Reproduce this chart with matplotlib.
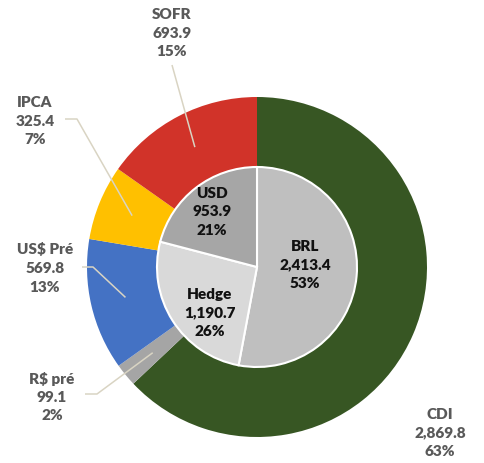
import numpy as np
import matplotlib
matplotlib.use("Agg")
import matplotlib.pyplot as plt

# ---- data ----
outer_labels = ["CDI", "R$ pré", "US$ Pré", "IPCA", "SOFR"]
outer_values = [2869.8, 99.1, 569.8, 325.4, 693.9]
outer_colors = ["#375623", "#a5a5a5", "#4472c4", "#ffc000", "#d13329"]

inner_labels = ["BRL", "Hedge", "USD"]
inner_values = [2413.4, 1190.7, 953.9]
inner_colors = ["#bfbfbf", "#d9d9d9", "#a6a6a6"]

W, H = 485, 463
fig = plt.figure(figsize=(W / 100, H / 100), dpi=100)
ax = fig.add_axes([0, 0, 1, 1])
ax.set_xlim(0, W)
ax.set_ylim(0, H)
ax.set_aspect("equal")
ax.axis("off")

cx, cy = 257, H - 267
R_out, R_in = 170, 100

ax.pie(outer_values, colors=outer_colors, startangle=90, counterclock=False,
       radius=R_out, center=(cx, cy),
       wedgeprops=dict(width=R_out - R_in, edgecolor="none", linewidth=0))
ax.pie(inner_values, colors=inner_colors, startangle=90, counterclock=False,
       radius=R_in, center=(cx, cy),
       wedgeprops=dict(edgecolor="white", linewidth=1.5))
ax.set_xlim(0, W)
ax.set_ylim(0, H)

FONT = "Lato"
fs = 11
tot = sum(outer_values)

def fmt(v):
    return f"{v:,.1f}"

# outer labels: text centre (px), elbow start/end (px)
outer_layout = {
    "SOFR": ((172, 33), [(172, 65)]),
    "IPCA": ((35, 121), [(65, 119), (77, 119)]),
    "US$ Pré": ((45, 268), [(82, 267), (93, 267)]),
    "R$ pré": ((52, 397), [(85, 394), (97, 394)]),
    "CDI": ((440, 433), None),
}

cum = 0
for lab, val in zip(outer_labels, outer_values):
    mid = cum + val / 2
    cum += val
    ang = np.deg2rad(90 - 360 * mid / tot)
    tip = (cx + 135 * np.cos(ang), cy + 135 * np.sin(ang))
    (tx, ty), pts = outer_layout[lab]
    pct = round(100 * val / tot)
    ax.text(tx, H - ty, f"{lab}\n{fmt(val)}\n{pct}%", ha="center", va="center",
            fontsize=fs, fontweight="heavy", color="#595959", family=FONT,
            linespacing=1.5)
    if pts:
        xs = [p[0] for p in pts] + [tip[0]]
        ys = [H - p[1] for p in pts] + [tip[1]]
        ax.plot(xs, ys, color="#d9d4c3", lw=1.1, solid_capstyle="butt")

inner_layout = {"BRL": (305, 265), "Hedge": (210, 313), "USD": (212, 212)}
for lab, val in zip(inner_labels, inner_values):
    tx, ty = inner_layout[lab]
    pct = round(100 * val / tot)
    ax.text(tx, H - ty, f"{lab}\n{fmt(val)}\n{pct}%", ha="center", va="center",
            fontsize=fs, fontweight="heavy", color="#111111", family=FONT,
            linespacing=1.5)

fig.savefig("out.png", dpi=100)
